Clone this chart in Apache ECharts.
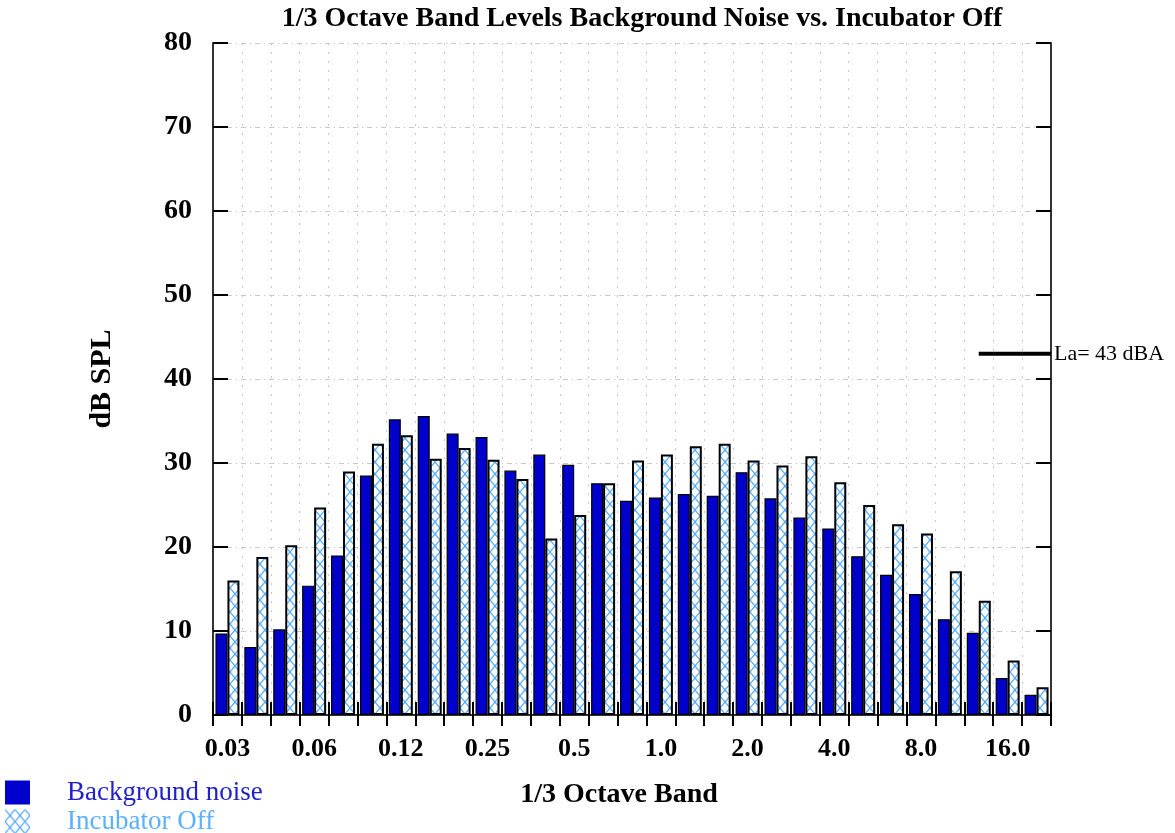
<!DOCTYPE html>
<html>
<head>
<meta charset="utf-8">
<script src="https://cdn.jsdelivr.net/npm/echarts@6/dist/echarts.min.js"></script>
<style>html,body{margin:0;padding:0;background:#fff;}#c{width:1175px;height:833px;}</style>
</head>
<body>
<div id="c"></div>
<script>
const titleText = '1/3 Octave Band Levels Background Noise vs. Incubator Off';
const bands = ['0.03','0.04','0.05','0.06','0.08','0.10','0.12','0.16','0.20','0.25','0.31','0.40','0.5','0.63','0.8','1.0','1.25','1.6','2.0','2.5','3.15','4.0','5.0','6.3','8.0','10.0','12.5','16.0','20.0'];
const labelEvery = 3;
const backgroundNoise = [9.7,8.1,10.2,15.4,19.0,28.5,35.2,35.6,33.5,33.1,29.1,31.0,29.8,27.6,25.5,25.9,26.3,26.1,28.9,25.8,23.5,22.2,18.9,16.7,14.4,11.4,9.8,4.4,2.4];
const incubatorOff   = [16.0,18.8,20.2,24.7,29.0,32.3,33.3,30.5,31.8,30.4,28.1,21.0,23.8,27.6,30.3,31.0,32.0,32.3,30.3,29.7,30.8,27.7,25.0,22.7,21.6,17.1,13.6,6.5,3.3];
const seriesNames = ['Background noise','Incubator Off'];
const yTicks = {min: 0, max: 80, step: 10};
const laLevel = 43;
const laLabel = 'La= 43 dBA';
const laFromBand = 26.5;

const SERIF = '"Liberation Serif","DejaVu Serif",serif';

// crosshatch pattern
const pc = document.createElement('canvas');
pc.width = 10; pc.height = 12;
const g = pc.getContext('2d');
g.fillStyle = '#fff'; g.fillRect(0,0,10,12);
g.strokeStyle = '#5aaefc'; g.lineWidth = 1.3;
g.beginPath(); g.moveTo(0,0); g.lineTo(10,12); g.moveTo(10,0); g.lineTo(0,12); g.stroke();
g.fillStyle = '#5aaefc';
g.beginPath(); g.arc(5,6,1.2,0,Math.PI*2); g.fill();
const hatch = {image: pc, repeat: 'repeat'};

function legendFor(name, top, iconColor, textColor) {
  return {
    orient: 'vertical', left: 5, top: top, padding: 0, itemWidth: 25, itemHeight: 24,
    textStyle: {fontFamily: SERIF, fontSize: 27, lineHeight: 24, padding: [2,0,0,32], color: textColor},
    data: [{name: name, icon: 'rect', itemStyle: {color: iconColor, borderWidth: 0}}]
  };
}

const chart = echarts.init(document.getElementById('c'));
chart.setOption({
  animation: false,
  backgroundColor: '#fff',
  title: {
    text: titleText, left: 637, top: 0, textAlign: 'center',
    textStyle: {fontFamily: SERIF, fontWeight: 'bold', fontSize: 28, color: '#000'}
  },
  grid: {left: 213, right: 124, top: 43, bottom: 118},
  legend: [
    legendFor(seriesNames[0], 779, '#0000cc', '#2020cc'),
    legendFor(seriesNames[1], 808, hatch, '#5cb0ff')
  ],
  xAxis: [
    {
      type: 'category', data: bands, position: 'bottom', boundaryGap: true,
      axisLine: {lineStyle: {color: '#333', width: 2}},
      axisTick: {show: true, inside: true, length: 13, interval: 0, lineStyle: {color: '#000', width: 2}},
      axisLabel: {interval: labelEvery - 1, fontFamily: SERIF, fontWeight: 'bold', fontSize: 26, color: '#000', margin: 21},
      splitLine: {show: true, interval: 0, lineStyle: {color: '#c8c8c8', type: [2,7], width: 1}},
      name: '1/3 Octave Band', nameLocation: 'middle', nameGap: 66,
      nameTextStyle: {fontFamily: SERIF, fontWeight: 'bold', fontSize: 28, color: '#000', padding: [0,26,0,0]}
    },
    {
      type: 'category', data: bands, position: 'top', boundaryGap: true,
      axisLine: {lineStyle: {color: '#333', width: 2}},
      axisTick: {show: true, inside: true, length: 11, interval: 0, lineStyle: {color: '#000', width: 2}},
      axisLabel: {show: false}, splitLine: {show: false}
    },
    {type: 'value', min: 0, max: bands.length, show: false}
  ],
  yAxis: [
    {
      type: 'value', min: yTicks.min, max: yTicks.max, interval: yTicks.step,
      axisLine: {show: true, lineStyle: {color: '#333', width: 2}},
      axisTick: {show: true, inside: true, length: 15, lineStyle: {color: '#000', width: 2}},
      axisLabel: {fontFamily: SERIF, fontWeight: 'bold', fontSize: 28, color: '#000', margin: 21},
      splitLine: {show: true, lineStyle: {color: '#c8c8c8', type: [5,4,1,4], width: 1}},
      name: 'dB SPL', nameLocation: 'middle', nameGap: 96, nameRotate: 90,
      nameTextStyle: {fontFamily: SERIF, fontWeight: 'bold', fontSize: 30, color: '#000'}
    },
    {
      type: 'value', min: yTicks.min, max: yTicks.max, interval: yTicks.step, position: 'right',
      axisLine: {show: true, lineStyle: {color: '#333', width: 2}},
      axisTick: {show: true, inside: true, length: 15, lineStyle: {color: '#000', width: 2}},
      axisLabel: {show: false}, splitLine: {show: false}
    }
  ],
  series: [
    {
      name: seriesNames[0], type: 'bar', data: backgroundNoise, barWidth: 12, barGap: '0%',
      itemStyle: {color: '#0000cc', borderColor: '#000', borderWidth: 1.2}
    },
    {
      name: seriesNames[1], type: 'bar', data: incubatorOff, barWidth: 12,
      itemStyle: {color: hatch, borderColor: '#000', borderWidth: 2}
    },
    {
      name: 'La', type: 'line', xAxisIndex: 2, yAxisIndex: 0, symbol: 'none',
      data: [[laFromBand, laLevel], [bands.length, laLevel]],
      lineStyle: {color: '#000', width: 4},
      endLabel: {show: true, formatter: laLabel, distance: 3, fontFamily: SERIF, fontSize: 22, color: '#000'},
      z: 5
    }
  ]
});
</script>
</body>
</html>
